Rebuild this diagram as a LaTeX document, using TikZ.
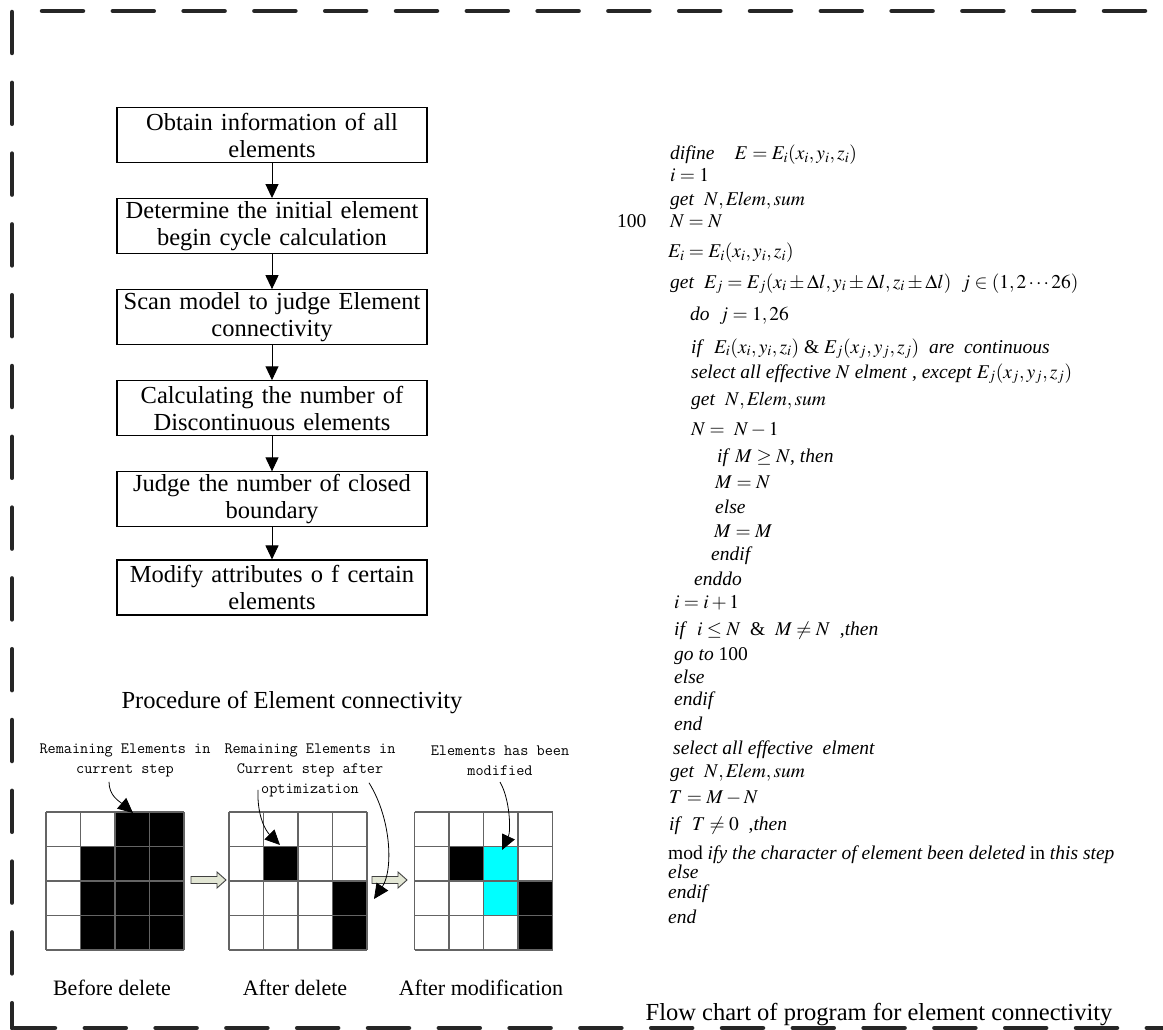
\documentclass[tikz,border=0pt]{standalone}
\usepackage{mathptmx}
\usepackage{fontspec}
\setmainfont{Liberation Serif}
\usepackage{tikz}
\usetikzlibrary{positioning}
\usetikzlibrary{arrows.meta}

\definecolor{bordergray}{RGB}{38,38,38}
\definecolor{cellgray}{RGB}{100,100,100}
\definecolor{arrowfill}{RGB}{226,230,212}
\definecolor{arrowline}{RGB}{64,64,64}
\definecolor{cellcyan}{RGB}{0,255,255}

\tikzset{
  stepbox/.style={draw, line width=1.1pt, minimum width=310pt, minimum height=55pt,
    text width=300pt, align=center, inner sep=0pt, font=\fontsize{24.5}{27}\selectfont},
  flow/.style={-{Triangle[length=14pt,width=13pt]}, line width=1pt},
  note/.style={align=center, inner sep=0pt, font=\ttfamily\fontsize{15.8}{20}\selectfont},
  pointer/.style={-{Triangle[length=15pt,width=14pt]}, line width=0.8pt},
  caption/.style={inner sep=0pt, font=\fontsize{22}{26}\selectfont},
  code/.style={anchor=base west, inner sep=0pt, font=\fontsize{19.5}{23}\selectfont},
  cellline/.style={draw=cellgray, line width=1.6pt},
  border/.style={draw=bordergray, line width=4.5pt, line cap=round, dash pattern=on 41pt off 29.8pt},
  blockarrow/.style={draw=arrowline, fill=arrowfill, line width=0.9pt, line join=miter}
}

\begin{document}
\begin{tikzpicture}[x=1pt,y=-1pt]
  \useasboundingbox (0,0) rectangle (1163,1030);
  \clip (0,0) rectangle (1163,1030);

  % dashed frame
  \draw[border] (42,11) -- (1200,11);
  \draw[border] (12,12) -- (12,1028);
  \draw[border] (14,1028) -- (1200,1028);

  % flow chart
  \node[stepbox] (obtain) at (272,135) {Obtain information of all\\elements};
  \node[stepbox, below=35pt of obtain] (initial) {Determine the initial element\\begin cycle calculation};
  \node[stepbox, below=35pt of initial] (scan) {Scan model to judge Element\\connectivity};
  \node[stepbox, below=35pt of scan] (count) {Calculating the number of\\Discontinuous elements};
  \node[stepbox, below=35pt of count] (closed) {Judge the number of closed\\boundary};
  \node[stepbox, below=32pt of closed] (modify) {Modify attributes o f certain\\elements};
  \draw[flow] (obtain) -- (initial);
  \draw[flow] (initial) -- (scan);
  \draw[flow] (scan) -- (count);
  \draw[flow] (count) -- (closed);
  \draw[flow] (closed) -- (modify);

  \node[caption, font=\fontsize{24.5}{28}\selectfont] (proc) at (292,703) {Procedure of Element connectivity};

  % grids
  \begin{scope}[shift={(46,812)}]
    \foreach \c/\r in {2/0,3/0,1/1,2/1,3/1,1/2,2/2,3/2,1/3,2/3,3/3}
      \fill (\c*34.5,\r*34.5) rectangle ++(34.5,34.5);
    \foreach \k in {0,...,4} {
      \draw[cellline] (\k*34.5,0) -- (\k*34.5,138);
      \draw[cellline] (0,\k*34.5) -- (138,\k*34.5);
    }
  \end{scope}
  \begin{scope}[shift={(229,812)}]
    \foreach \c/\r in {1/1,3/2,3/3}
      \fill (\c*34.5,\r*34.5) rectangle ++(34.5,34.5);
    \foreach \k in {0,...,4} {
      \draw[cellline] (\k*34.5,0) -- (\k*34.5,138);
      \draw[cellline] (0,\k*34.5) -- (138,\k*34.5);
    }
  \end{scope}
  \begin{scope}[shift={(414.5,812)}]
    \foreach \c/\r in {1/1,3/2,3/3}
      \fill (\c*34.5,\r*34.5) rectangle ++(34.5,34.5);
    \foreach \c/\r in {2/1,2/2}
      \fill[cellcyan] (\c*34.5,\r*34.5) rectangle ++(34.5,34.5);
    \foreach \k in {0,...,4} {
      \draw[cellline] (\k*34.5,0) -- (\k*34.5,138);
      \draw[cellline] (0,\k*34.5) -- (138,\k*34.5);
    }
  \end{scope}

  % hollow arrows between the grids
  \draw[blockarrow] (191,876.5) -- ++(26,0) -- ++(0,-4.5) -- ++(9,8) -- ++(-9,8) -- ++(0,-4.5) -- ++(-26,0) -- cycle;
  \draw[blockarrow] (372,876.5) -- ++(26,0) -- ++(0,-4.5) -- ++(9,8) -- ++(-9,8) -- ++(0,-4.5) -- ++(-26,0) -- cycle;

  % notes and pointers
  \node[note] (note1) at (125,760) {Remaining Elements in\\current step};
  \node[note] (note2) at (310,770) {Remaining Elements in\\Current step after\\optimization};
  \node[note] (note3) at (500,761) {Elements has been\\modified};
  \coordinate (tip1) at (133,813);
  \coordinate (tip2) at (280,845);
  \coordinate (tip3) at (374,899);
  \coordinate (tip4) at (502,850);
  \draw[pointer] ([shift={(-16,5)}]note1.south) .. controls +(0,14) and +(-14,-12) .. (tip1);
  \draw[pointer] ([shift={(-52,-7)}]note2.south) .. controls +(-1,25) and +(-15,-15) .. (tip2);
  \draw[pointer] ([shift={(59,-14)}]note2.south) .. controls +(23,37) and +(19,-28) .. (tip3);
  \draw[pointer] ([shift={(0,6)}]note3.south) .. controls +(10,17) and +(9,-19) .. (tip4);

  \node[caption] (before) at (112,988) {Before delete};
  \node[caption] (after) at (295,988) {After delete};
  \node[caption] (modif) at (481,988) {After modification};

  % program listing
  \node[code] (c1) at (670,160) {\textit{difine}\hspace{20pt}$E = E_i(x_i, y_i, z_i)$};
  \node[code] (c2) at (670,182) {$i = 1$};
  \node[code] (c3) at (670,205) {\textit{get}\ \ $N, \mathit{Elem}, \mathit{sum}$};
  \node[code] (lbl) at (617,228) {100};
  \node[code] (c4) at (670,228) {$N = N$};
  \node[code] (c5) at (668,258) {$E_i = E_i(x_i, y_i, z_i)$};
  \node[code] (c6) at (670,288) {\textit{get}\ \ $E_j = E_j(x_i \pm \Delta l, y_i \pm \Delta l, z_i \pm \Delta l)$\hspace{10pt}$j \in (1, 2 \cdots 26)$};
  \node[code] (c7) at (690,320) {\textit{do}\ \ $j = 1, 26$};
  \node[code] (c8) at (691,353) {\textit{if}\ \ $E_i(x_i, y_i, z_i)$ \& $E_j(x_j, y_j, z_j)$\ \ \textit{are}\ \ \textit{continuous}};
  \node[code] (c9) at (691,378) {\textit{select\ all\ effective} $N$ \textit{elment} , \textit{except}\ $E_j(x_j, y_j, z_j)$};
  \node[code] (c10) at (691,405) {\textit{get}\ \ $N, \mathit{Elem}, \mathit{sum}$};
  \node[code] (c11) at (691,435) {$N =\ N - 1$};
  \node[code] (c12) at (717,462) {\textit{if}\ $M \geq N$, \textit{then}};
  \node[code] (c13) at (715,488) {$M = N$};
  \node[code] (c14) at (715,513) {\textit{else}};
  \node[code] (c15) at (714,537) {$M = M$};
  \node[code] (c16) at (711,560) {\textit{endif}};
  \node[code] (c17) at (694,585) {\textit{enddo}};
  \node[code] (c18) at (674,608) {$i = i + 1$};
  \node[code] (c19) at (674,635) {\textit{if}\ \ $i \leq N$\ \ \&\ \ $M \neq N$\ \ ,\textit{then}};
  \node[code] (c20) at (674,660) {\textit{go\ to} 100};
  \node[code] (c21) at (674,683) {\textit{else}};
  \node[code] (c22) at (674,705) {\textit{endif}};
  \node[code] (c23) at (674,730) {\textit{end}};
  \node[code] (c24) at (673,754) {\textit{select\ all\ effective\ \ elment}};
  \node[code] (c25) at (670,777) {\textit{get}\ \ $N, \mathit{Elem}, \mathit{sum}$};
  \node[code] (c26) at (669,803) {$T = M - N$};
  \node[code] (c27) at (669,830) {\textit{if}\ \ $T \neq 0$\ \ ,\textit{then}};
  \node[code] (c28) at (668,859) {mod \textit{ify\ the\ character\ of\ element\ been\ deleted} in \textit{this\ step}};
  \node[code] (c29) at (668,878) {\textit{else}};
  \node[code] (c30) at (668,898) {\textit{endif}};
  \node[code] (c31) at (668,923) {\textit{end}};

  \node[caption, font=\fontsize{24.5}{28}\selectfont] (flowcap) at (879,1015) {Flow chart of program for element connectivity};
\end{tikzpicture}
\end{document}
